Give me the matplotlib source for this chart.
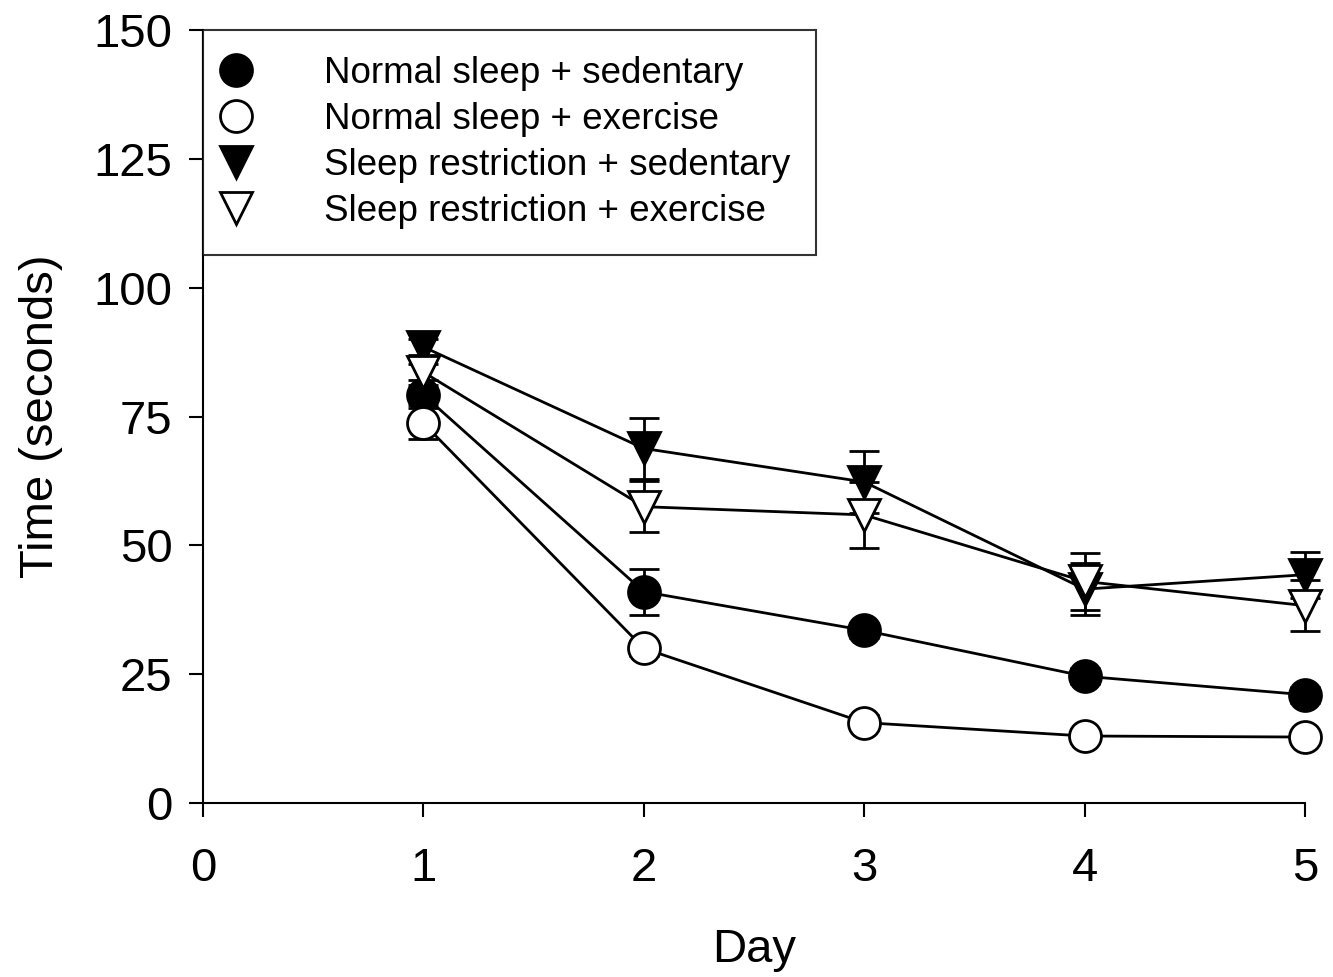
import matplotlib
matplotlib.use("Agg")
import matplotlib.pyplot as plt

plt.rcParams['font.family'] = ['Liberation Sans', 'DejaVu Sans']

days = [1, 2, 3, 4, 5]

ns_sed = [79.2, 41.0, 33.5, 24.6, 21.0]
ns_sed_err = [2.0, 4.5, 1.5, 1.5, 1.5]
ns_ex = [73.7, 30.0, 15.6, 13.0, 12.8]
ns_ex_err = [3.0, 1.5, 1.5, 1.0, 1.0]
sr_sed = [88.5, 68.8, 62.3, 41.5, 44.3]
sr_sed_err = [1.5, 6.0, 6.0, 5.0, 4.5]
sr_ex = [83.6, 57.5, 55.9, 43.0, 38.3]
sr_ex_err = [1.5, 5.0, 6.4, 5.5, 5.0]

labels = ["Normal sleep + sedentary", "Normal sleep + exercise",
          "Sleep restriction + sedentary", "Sleep restriction + exercise"]

fig = plt.figure(figsize=(13.33, 9.77), dpi=100)
ax = fig.add_axes([203/1333, 1-803/977, (1305-203)/1333, (803-30)/977])

series = [
    (ns_sed, ns_sed_err, 'o', 'black', labels[0]),
    (ns_ex, ns_ex_err, 'o', 'white', labels[1]),
    (sr_sed, sr_sed_err, 'v', 'black', labels[2]),
    (sr_ex, sr_ex_err, 'v', 'white', labels[3]),
]

for y, e, m, fc, lab in series:
    eb = ax.errorbar(days, y, yerr=e, fmt='none', ecolor='black', elinewidth=2,
                     capsize=11, capthick=2, zorder=2)
    for art in eb.lines[1] + eb.lines[2]:
        art.set_clip_on(False)
    ax.plot(days, y, color='black', lw=2, zorder=3, clip_on=False)
    ax.plot(days, y, linestyle='none', marker=m, markersize=23,
            markerfacecolor=fc, markeredgecolor='black', markeredgewidth=2,
            zorder=4, label=lab, clip_on=False)

ax.set_xlim(0, 5)
ax.set_ylim(0, 150)
ax.set_xticks([0, 1, 2, 3, 4, 5])
ax.set_yticks([0, 25, 50, 75, 100, 125, 150])
ax.spines['top'].set_visible(False)
ax.spines['right'].set_visible(False)
ax.spines['left'].set_linewidth(1.5)
ax.spines['bottom'].set_linewidth(1.5)
ax.tick_params(direction='out', length=10, width=1.5, labelsize=34)
ax.tick_params(axis='x', pad=22)
ax.tick_params(axis='y', pad=12)

ax.set_xlabel("Day", fontsize=34, labelpad=26)
ax.set_ylabel("Time (seconds)", fontsize=34, labelpad=22)

leg = ax.legend(loc='upper left', bbox_to_anchor=(0, 1), fontsize=26.5,
                frameon=True, fancybox=False, edgecolor='black',
                borderaxespad=0, handletextpad=2.2, labelspacing=0.3,
                borderpad=0.7, markerscale=1.0, handlelength=0.4)
leg.get_frame().set_linewidth(1.5)

fig.savefig("out.png", dpi=100)
